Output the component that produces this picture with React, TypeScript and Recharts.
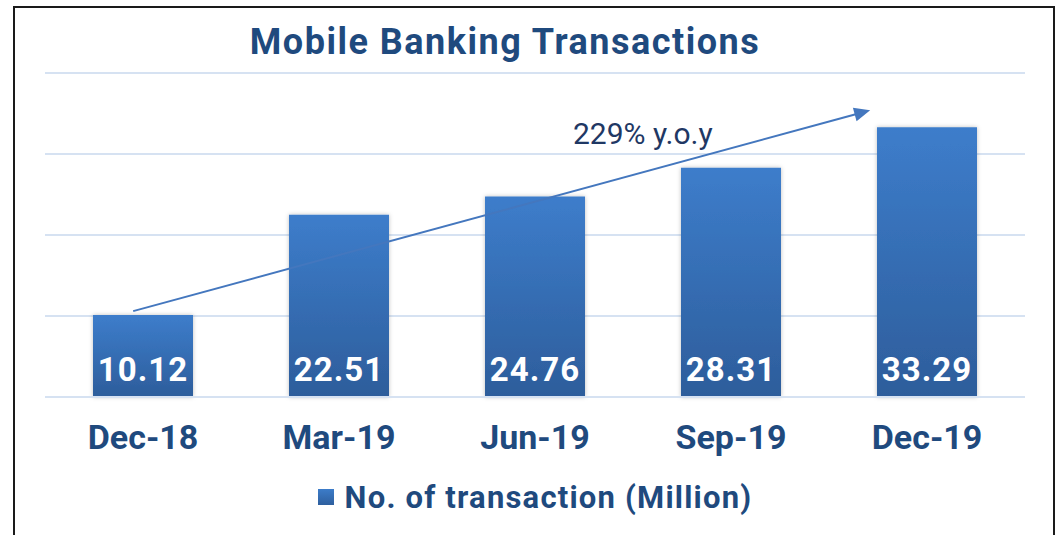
import React from 'react';
import {
  BarChart,
  Bar,
  XAxis,
  YAxis,
  CartesianGrid,
  LabelList,
  Legend,
  ReferenceLine,
  ReferenceDot,
} from 'recharts';

const titleText = 'Mobile Banking Transactions';
const categories = ['Dec-18', 'Mar-19', 'Jun-19', 'Sep-19', 'Dec-19'];
const transactions = [10.12, 22.51, 24.76, 28.31, 33.29];
const yTicks = [0, 10, 20, 30, 40];
const seriesName = 'No. of transaction (Million)';
const annotationText = '229% y.o.y';
// arrow annotation in (category position, value) units; category i spans [i, i+1]
const arrowStart = { x: 0.45, y: 10.6 };
const arrowEnd = { x: 4.21, y: 35.4 };
const annotationPos = { x: 3.05, y: 32.6 };

const data = categories.map((c, i) => ({ period: c, value: transactions[i], pos: i + 0.5 }));

const FONT = 'Roboto, "DejaVu Sans", sans-serif';
const TEXT_BLUE = '#1F4A7E';

const ArrowShape = (props: any) => {
  const { x1, y1, x2, y2 } = props;
  const dx = x2 - x1;
  const dy = y2 - y1;
  const len = Math.sqrt(dx * dx + dy * dy) || 1;
  const ux = dx / len;
  const uy = dy / len;
  const hl = 16;
  const hw = 7;
  const bx = x2 - ux * hl;
  const by = y2 - uy * hl;
  const p1 = `${x2},${y2}`;
  const p2 = `${bx - uy * hw},${by + ux * hw}`;
  const p3 = `${bx + uy * hw},${by - ux * hw}`;
  return (
    <g>
      <line x1={x1} y1={y1} x2={bx + ux * 2} y2={by + uy * 2} stroke="#4477BE" strokeWidth={2} />
      <polygon points={`${p1} ${p2} ${p3}`} fill="#4477BE" />
    </g>
  );
};

const LegendContent = () => (
  <div
    style={{
      display: 'flex',
      justifyContent: 'center',
      alignItems: 'center',
      height: 60,
      fontFamily: FONT,
    }}
  >
    <div
      style={{
        width: 16,
        height: 16,
        background: 'linear-gradient(#3C7CC9, #2E5F9E)',
        marginRight: 11,
      }}
    />
    <span style={{ color: TEXT_BLUE, fontSize: 31, fontWeight: 700, letterSpacing: 1.2 }}>{seriesName}</span>
  </div>
);

export default function App() {
  return (
    <div style={{ position: 'absolute', left: 0, top: 0, width: 1060, height: 535, background: '#fff', overflow: 'hidden' }}>
      <div
        style={{
          position: 'absolute',
          left: 13,
          top: 6,
          width: 1042,
          height: 560,
          border: '2px solid #1a1a1a',
          boxSizing: 'border-box',
        }}
      />
      <div
        style={{
          position: 'absolute',
          left: 0,
          width: 1010,
          top: 18,
          textAlign: 'center',
          fontFamily: FONT,
          fontWeight: 700,
          fontSize: 36,
          color: TEXT_BLUE,
          letterSpacing: 1.5,
          lineHeight: '48px',
        }}
      >
        {titleText}
      </div>
      <div style={{ position: 'absolute', left: 0, top: 0 }}>
        <BarChart
          width={1060}
          height={535}
          data={data}
          margin={{ top: 73, right: 35, left: 45, bottom: 8 }}
          barCategoryGap={48}
        >
          <defs>
            <linearGradient id="barGrad" x1="0" y1="0" x2="0" y2="1">
              <stop offset="0%" stopColor="#3D7DCB" />
              <stop offset="100%" stopColor="#2D5D9B" />
            </linearGradient>
            <filter id="barShadow" x="-10%" y="-10%" width="120%" height="120%">
              <feDropShadow dx="0" dy="0" stdDeviation="2" floodColor="#000" floodOpacity="0.25" />
            </filter>
          </defs>
          <CartesianGrid vertical={false} stroke="#D6E2F2" strokeWidth={2} />
          <XAxis
            dataKey="period"
            axisLine={{ stroke: '#D6E2F2', strokeWidth: 2 }}
            tickLine={false}
            tickSize={0}
            tickMargin={28}
            height={70}
            interval={0}
            tick={{ fill: TEXT_BLUE, fontSize: 34, fontWeight: 700, fontFamily: FONT }}
          />
          <XAxis xAxisId="pos" dataKey="pos" type="number" domain={[0, 5]} hide allowDataOverflow />
          <YAxis domain={[0, 40]} ticks={yTicks} hide />
          <Legend verticalAlign="bottom" content={<LegendContent />} />
          <Bar
            dataKey="value"
            name={seriesName}
            fill="url(#barGrad)"
            isAnimationActive={false}
            style={{ filter: 'url(#barShadow)' }}
          >
            <LabelList
              dataKey="value"
              position="insideBottom"
              offset={16}
              fill="#FFFFFF"
              style={{ fontSize: 33, fontWeight: 700, fontFamily: FONT, letterSpacing: 1 }}
              formatter={(v: any) => Number(v).toFixed(2)}
            />
          </Bar>
          <ReferenceLine
            xAxisId="pos"
            segment={[arrowStart, arrowEnd]}
            ifOverflow="visible"
            shape={ArrowShape}
          />
          <ReferenceDot
            xAxisId="pos"
            x={annotationPos.x}
            y={annotationPos.y}
            r={1}
            fill="none"
            stroke="none"
            ifOverflow="visible"
            label={{ value: annotationText, fill: '#1F3864', fontSize: 30, fontFamily: FONT, position: 'center' }}
          />
        </BarChart>
      </div>
    </div>
  );
}
